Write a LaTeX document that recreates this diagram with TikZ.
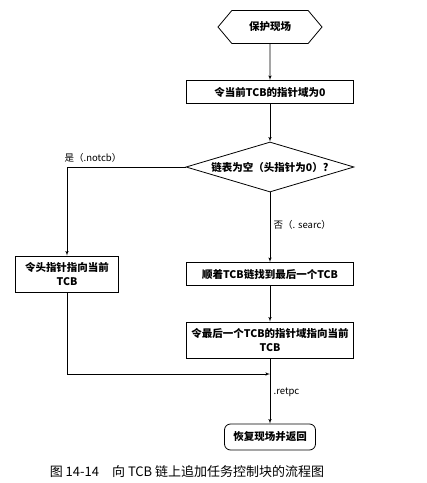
\documentclass[tikz,border=0pt]{standalone}
\usepackage{fontspec}
\setmainfont{Noto Sans CJK SC}
\usetikzlibrary{shapes.geometric, shapes.symbols, arrows}
\tikzstyle{every node}=[font=\fontsize{10.5}{14}\selectfont\bfseries]
\tikzstyle{block} = [rectangle, draw, thick, align=center, inner sep=2pt, minimum width=167pt, minimum height=23pt]
\tikzstyle{decision} = [diamond, draw, thick, aspect=3.36, inner sep=0pt, minimum width=168pt, minimum height=50pt]
\tikzstyle{entry} = [signal, signal to=west and east, signal pointer angle=100, draw, thick, minimum width=104pt, minimum height=33pt]
\tikzstyle{term} = [rectangle, draw, thick, rounded corners=6pt, minimum width=91pt, minimum height=26pt]
\tikzstyle{tag} = [font=\fontsize{9.5}{11}\selectfont]
\tikzstyle{line} = [draw, semithick, -latex']

\begin{document}
\begin{tikzpicture}[x=1pt, y=1pt]
    \useasboundingbox (0,0) rectangle (427,-483);
    % Place nodes
    \node [entry] (save) at (270,-27) {保护现场};
    \node [block, below of=save, node distance=65pt] (clear) {令当前TCB的指针域为0};
    \node [decision, below of=clear, node distance=75pt] (empty) {链表为空（头指针为0）?};
    \node [block, below of=empty, node distance=107pt] (search) {顺着TCB链找到最后一个TCB};
    \node [block, left of=search, node distance=203pt, minimum width=103pt, minimum height=36pt] (head) {令头指针指向当前\\TCB};
    \node [block, below of=search, node distance=66pt, minimum height=36pt] (link) {令最后一个TCB的指针域指向当前\\TCB};
    \node [term, below of=link, node distance=97pt] (restore) {恢复现场并返回};
    \coordinate (merge) at (link.south |- 0,-374);
    % Draw edges
    \path [line] (save) -- (clear);
    \path [line] (clear) -- (empty);
    \path [line] (empty.west) -| node [tag, pos=0.5, anchor=south west, xshift=-6pt, yshift=1pt] {是（.notcb）} (head.north);
    \path [line] (empty) -- node [tag, right, pos=0.47] {否（. searc）} (search);
    \path [line] (search) -- (link);
    \path [line] (head.south) |- (merge);
    \path [draw, semithick] (link) -- (merge);
    \path [line] (merge) -- node [tag, right, pos=0.36] {.retpc} (restore);
    % Caption
    \node [font=\fontsize{13}{15}\selectfont] (caption) at (187,-472) {图 14-14\quad 向 TCB 链上追加任务控制块的流程图};
\end{tikzpicture}
\end{document}
